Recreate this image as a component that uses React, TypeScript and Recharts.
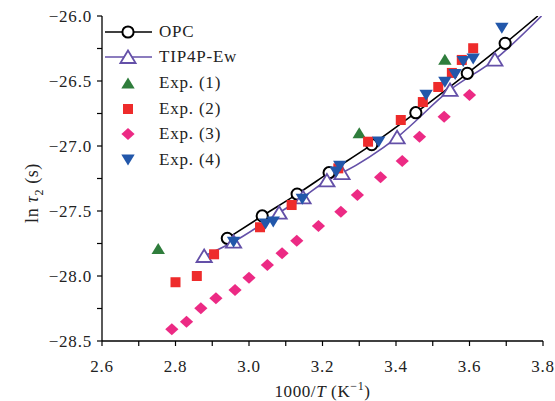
import React from 'react';
import { ScatterChart, Scatter, XAxis, YAxis } from 'recharts';

// x = 1000/T (K^-1), y = ln tau2 (s)
const opcX = [2.941, 3.036, 3.131, 3.218, 3.334, 3.454, 3.594, 3.697];
const opcY = [-27.71, -27.538, -27.37, -27.205, -26.99, -26.744, -26.441, -26.21];
// fit line continues to the top-right corner
const opcLineEndX = [3.786];
const opcLineEndY = [-26.0];

const tipX = [2.878, 2.958, 3.082, 3.147, 3.212, 3.253, 3.403, 3.547, 3.669];
const tipY = [-27.846, -27.736, -27.513, -27.395, -27.265, -27.208, -26.933, -26.569, -26.335];
const tipLineEndX = [3.796];
const tipLineEndY = [-26.0];

const exp1X = [2.753, 3.3, 3.533];
const exp1Y = [-27.79, -26.898, -26.333];

const exp2X = [2.8, 2.858, 2.905, 3.03, 3.116, 3.243, 3.324, 3.413, 3.473, 3.515, 3.552, 3.579, 3.61];
const exp2Y = [-28.048, -28.0, -27.833, -27.625, -27.454, -27.172, -26.967, -26.8, -26.662, -26.546, -26.438, -26.338, -26.248];

const exp3X = [2.79, 2.83, 2.869, 2.91, 2.962, 3.0, 3.05, 3.09, 3.13, 3.189, 3.25, 3.295, 3.358, 3.417, 3.464, 3.531, 3.6];
const exp3Y = [-28.41, -28.352, -28.249, -28.172, -28.108, -28.013, -27.915, -27.825, -27.728, -27.615, -27.505, -27.377, -27.241, -27.115, -26.928, -26.775, -26.608];

const exp4X = [2.958, 3.045, 3.066, 3.145, 3.237, 3.247, 3.353, 3.482, 3.533, 3.561, 3.583, 3.61, 3.688];
const exp4Y = [-27.74, -27.6, -27.585, -27.41, -27.2, -27.155, -26.97, -26.61, -26.51, -26.45, -26.35, -26.33, -26.095];

const xTicks = [2.6, 2.7, 2.8, 2.9, 3.0, 3.1, 3.2, 3.3, 3.4, 3.5, 3.6, 3.7, 3.8];
const yTicks = [-28.5, -28.25, -28.0, -27.75, -27.5, -27.25, -27.0, -26.75, -26.5, -26.25, -26.0];

const zip = (xs: number[], ys: number[]) => xs.map((x, i) => ({ x, y: ys[i] }));

const opcData = zip(opcX, opcY);
const opcLine = [...opcData, ...zip(opcLineEndX, opcLineEndY)];
const tipData = zip(tipX, tipY);
const tipLine = [...tipData, ...zip(tipLineEndX, tipLineEndY)];

const PURPLE = '#6450a8';
const GREEN = '#2f7d3c';
const RED = '#ee2b2b';
const PINK = '#ec2a84';
const BLUE = '#2257aa';
const FONT = '"Liberation Serif", "Times New Roman", serif';

// marker drawers
const circle = (cx: number, cy: number) => (
  <circle cx={cx} cy={cy} r={5.6} fill="#fff" stroke="#000" strokeWidth={2} />
);
const openTri = (cx: number, cy: number) => (
  <polygon
    points={`${cx},${cy - 6.5} ${cx - 7.6},${cy + 6} ${cx + 7.6},${cy + 6}`}
    fill="#fff" stroke={PURPLE} strokeWidth={1.8}
  />
);
const upTri = (cx: number, cy: number) => (
  <polygon points={`${cx},${cy - 5.6} ${cx - 6.7},${cy + 5.4} ${cx + 6.7},${cy + 5.4}`} fill={GREEN} />
);
const square = (cx: number, cy: number) => (
  <rect x={cx - 5} y={cy - 5} width={10} height={10} fill={RED} />
);
const diamond = (cx: number, cy: number) => (
  <polygon points={`${cx},${cy - 6} ${cx + 6.6},${cy} ${cx},${cy + 6} ${cx - 6.6},${cy}`} fill={PINK} />
);
const downTri = (cx: number, cy: number) => (
  <polygon points={`${cx - 6.7},${cy - 5.5} ${cx + 6.7},${cy - 5.5} ${cx},${cy + 5.5}`} fill={BLUE} />
);

const shapeOf = (draw: (cx: number, cy: number) => React.ReactNode) => (props: any) => (
  <g>{draw(props.cx, props.cy)}</g>
);

const legendItems = [
  { name: 'OPC', draw: circle, line: '#000' },
  { name: 'TIP4P-Ew', draw: openTri, line: PURPLE },
  { name: 'Exp. (1)', draw: upTri },
  { name: 'Exp. (2)', draw: square },
  { name: 'Exp. (3)', draw: diamond },
  { name: 'Exp. (4)', draw: downTri },
];

const LegendBox = () => (
  <div style={{ position: 'absolute', left: 103, top: 19, fontFamily: FONT, fontSize: 17, letterSpacing: 0.8, color: '#222' }}>
    {legendItems.map((it) => (
      <div key={it.name} style={{ display: 'flex', alignItems: 'center', height: 25.6 }}>
        <svg width={56} height={26} style={{ display: 'block' }}>
          {it.line && <line x1={2} x2={49} y1={13} y2={13} stroke={it.line} strokeWidth={1.6} />}
          {it.draw(25, 13)}
        </svg>
        <span>{it.name}</span>
      </div>
    ))}
  </div>
);

const xFmt = (v: number) => (Math.round(v * 10) % 2 === 0 ? v.toFixed(1) : '');
const yFmt = (v: number) => (Math.round(v * 4) % 2 === 0 ? '\u2212' + Math.abs(v).toFixed(1) : '');

const tickStyle = { fill: '#222', fontSize: 17, fontFamily: FONT, letterSpacing: 0.8 };

const App: React.FC = () => {
  return (
    <div style={{ position: 'absolute', left: 0, top: 0, width: 555, height: 401, background: '#fff' }}>
      <ScatterChart width={555} height={401} margin={{ top: 16, right: 12, bottom: 0, left: 42 }}>
        <XAxis
          type="number"
          dataKey="x"
          domain={[2.6, 3.8]}
          ticks={xTicks}
          tickFormatter={xFmt}
          interval={0}
          height={60}
          tickSize={5}
          tickMargin={14}
          tick={tickStyle}
          axisLine={{ stroke: '#000', strokeWidth: 1.3 }}
          tickLine={{ stroke: '#000', strokeWidth: 1.2 }}
          allowDataOverflow
          label={{
            position: 'bottom',
            content: (p: any) => {
              const vb = p.viewBox || {};
              const cx = vb.x + vb.width / 2;
              return (
                <text x={cx} y={397} textAnchor="middle" fontFamily={FONT} fontSize={17} fill="#222" letterSpacing={0.6}>
                  1000/<tspan fontStyle="italic">T</tspan> (K
                  <tspan dy={-7} fontSize={12}>{'\u2212'}1</tspan>
                  <tspan dy={7}>)</tspan>
                </text>
              );
            },
          }}
        />
        <XAxis xAxisId="top" orientation="top" type="number" domain={[2.6, 3.8]} height={0} tick={false} tickLine={false} axisLine={{ stroke: '#000', strokeWidth: 1.3 }} />
        <YAxis
          type="number"
          dataKey="y"
          domain={[-28.5, -26.0]}
          ticks={yTicks}
          tickFormatter={yFmt}
          interval={0}
          width={60}
          tickSize={5}
          tickMargin={5}
          tick={tickStyle}
          axisLine={{ stroke: '#000', strokeWidth: 1.3 }}
          tickLine={{ stroke: '#000', strokeWidth: 1.2 }}
          allowDataOverflow
          label={{
            position: 'left',
            content: () => (
              <text
                x={0}
                y={0}
                transform="translate(38,193) rotate(-90)"
                textAnchor="middle"
                fontFamily={FONT}
                fontSize={18}
                fill="#222"
                letterSpacing={0.6}
              >
                ln <tspan fontStyle="italic">{'\u03c4'}</tspan>
                <tspan dy={5} fontSize={12}>2</tspan>
                <tspan dy={-5}> (s)</tspan>
              </text>
            ),
          }}
        />
        <YAxis yAxisId="right" orientation="right" type="number" domain={[-28.5, -26.0]} width={0} tick={false} tickLine={false} axisLine={{ stroke: '#000', strokeWidth: 1.3 }} />

        <Scatter data={opcLine} line={{ stroke: '#000', strokeWidth: 1.6 }} lineJointType="monotoneX" shape={() => <g />} isAnimationActive={false} legendType="none" />
        <Scatter data={tipLine} line={{ stroke: PURPLE, strokeWidth: 1.6 }} lineJointType="monotoneX" shape={() => <g />} isAnimationActive={false} legendType="none" />
        <Scatter name="OPC" data={opcData} shape={shapeOf(circle)} isAnimationActive={false} />
        <Scatter name="TIP4P-Ew" data={tipData} shape={shapeOf(openTri)} isAnimationActive={false} />
        <Scatter name="Exp. (1)" data={zip(exp1X, exp1Y)} shape={shapeOf(upTri)} isAnimationActive={false} />
        <Scatter name="Exp. (2)" data={zip(exp2X, exp2Y)} shape={shapeOf(square)} isAnimationActive={false} />
        <Scatter name="Exp. (3)" data={zip(exp3X, exp3Y)} shape={shapeOf(diamond)} isAnimationActive={false} />
        <Scatter name="Exp. (4)" data={zip(exp4X, exp4Y)} shape={shapeOf(downTri)} isAnimationActive={false} />
      </ScatterChart>
      <LegendBox />
    </div>
  );
};

export default App;
